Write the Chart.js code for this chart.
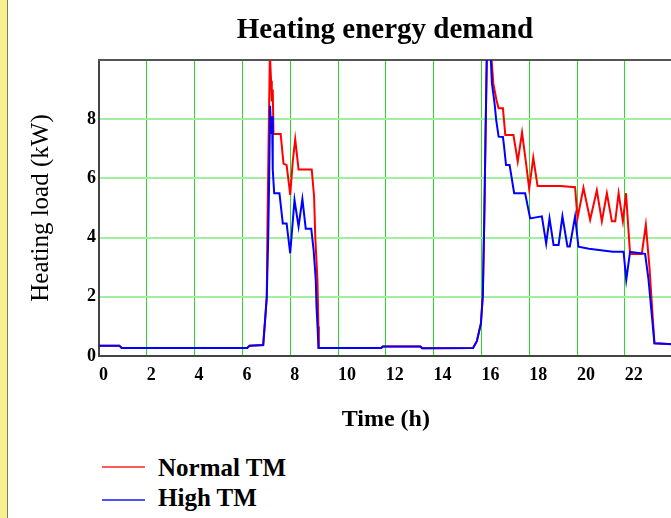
<!DOCTYPE html>
<html>
<head>
<meta charset="utf-8">
<script src="https://cdn.jsdelivr.net/npm/chart.js@4.4.0/dist/chart.umd.min.js"></script>
<style>
body { margin: 0; width: 671px; height: 518px; overflow: hidden; background: #fff; position: relative; }
#strip { position: absolute; left: 0; top: 0; width: 7px; height: 518px; background: #f6f08e; border-right: 1px solid #7a7a60; }
#wrap { position: absolute; left: 0; top: 0; width: 770px; height: 440px; }
#title { position: absolute; left: 0; top: 10px; width: 770px; text-align: center; font: bold 29px/36px "Liberation Serif", serif; color: #000; }
.key { position: absolute; left: 102px; width: 43px; height: 2px; }
.lbl { position: absolute; left: 158px; font: bold 25px/30px "Liberation Serif", serif; color: #000; white-space: nowrap; }
</style>
</head>
<body>
<div id="strip"></div>
<div id="wrap"><canvas id="myChart" width="770" height="440"></canvas></div>
<div id="title">Heating energy demand</div>
<div class="key" style="top:466px; background:rgb(255,90,90)"></div>
<div class="lbl" style="top:453px">Normal TM</div>
<div class="key" style="top:499px; background:rgb(80,80,255)"></div>
<div class="lbl" style="top:483px">High TM</div>
<script>
// time (h) and load (kW)
var timeNormal = [0, 0.85, 0.95, 6.2, 6.3, 6.87, 6.96, 7.02, 7.05, 7.1, 7.15, 7.2, 7.23, 7.27, 7.3, 7.6, 7.72, 7.85, 7.96, 8.0, 8.11, 8.21, 8.35, 8.9, 9.0, 9.05, 9.14, 9.18, 9.2, 11.8, 11.88, 13.45, 13.52, 15.65, 15.81, 15.98, 16.06, 16.12, 16.17, 16.23, 16.4, 16.5, 16.63, 16.72, 16.9, 17.0, 17.34, 17.52, 17.7, 17.87, 18.0, 18.17, 18.35, 19.3, 19.92, 20.02, 20.27, 20.55, 20.83, 21.04, 21.25, 21.46, 21.6, 21.74, 21.92, 22.05, 22.22, 22.71, 22.88, 23.03, 23.24, 24];
var loadNormal = [0.35, 0.35, 0.27, 0.27, 0.35, 0.37, 1.33, 2.0, 4.5, 7.5, 10.2, 9.3, 8.6, 9.0, 7.5, 7.5, 6.5, 6.45, 5.72, 5.44, 6.6, 7.32, 6.3, 6.3, 5.38, 4.0, 2.57, 1.0, 0.27, 0.27, 0.32, 0.32, 0.26, 0.27, 0.5, 1.1, 2.06, 4.6, 7.3, 10.3, 10.3, 9.2, 8.65, 8.37, 8.37, 7.47, 7.47, 6.57, 7.55, 6.5, 5.65, 6.7, 5.74, 5.74, 5.7, 4.65, 5.68, 4.6, 5.6, 4.55, 5.5, 4.55, 4.55, 5.5, 4.55, 5.5, 3.45, 3.45, 4.43, 3.02, 0.43, 0.4];

var timeHigh = [0, 0.85, 0.95, 6.2, 6.3, 6.87, 6.96, 7.02, 7.08, 7.12, 7.16, 7.2, 7.24, 7.27, 7.33, 7.55, 7.69, 7.85, 8.0, 8.18, 8.35, 8.51, 8.65, 8.88, 8.98, 9.07, 9.1, 9.15, 9.18, 11.8, 11.88, 13.45, 13.52, 15.65, 15.81, 15.98, 16.06, 16.12, 16.17, 16.23, 16.38, 16.44, 16.55, 16.62, 16.72, 16.9, 16.95, 17.03, 17.18, 17.37, 17.83, 18.04, 18.53, 18.71, 18.85, 19.02, 19.23, 19.39, 19.6, 19.7, 19.92, 20.06, 20.5, 21.5, 21.95, 22.06, 22.22, 22.85, 22.99, 23.24, 24];
var loadHigh = [0.35, 0.35, 0.27, 0.27, 0.35, 0.37, 1.33, 2.0, 4.0, 6.0, 8.45, 7.5, 8.1, 6.3, 5.5, 5.5, 4.48, 4.48, 3.47, 5.27, 4.37, 5.3, 4.3, 4.3, 3.58, 2.57, 1.67, 0.9, 0.27, 0.27, 0.32, 0.32, 0.26, 0.27, 0.5, 1.1, 2.06, 4.6, 7.3, 10.3, 10.3, 9.21, 8.54, 7.97, 7.41, 7.4, 7.07, 6.45, 6.45, 5.5, 5.5, 4.65, 4.72, 3.8, 4.65, 3.75, 3.75, 4.72, 3.7, 3.7, 4.72, 3.69, 3.62, 3.52, 3.52, 2.57, 3.52, 3.45, 2.6, 0.43, 0.4];

var xTicks = [0, 2, 4, 6, 8, 10, 12, 14, 16, 18, 20, 22, 24];
var yTicks = [0, 2, 4, 6, 8];

function toPoints(xs, ys) {
    var pts = [];
    for (var i = 0; i < xs.length; i++) {
        pts.push({ x: xs[i], y: ys[i] });
    }
    return pts;
}

// dark frame line along the top of the plot
var topFrame = {
    id: 'topFrame',
    beforeDatasetsDraw: function(chart) {
        var a = chart.chartArea;
        var ctx = chart.ctx;
        ctx.save();
        ctx.strokeStyle = '#555';
        ctx.lineWidth = 2;
        ctx.beginPath();
        ctx.moveTo(a.left - 1, a.top);
        ctx.lineTo(a.right + 40, a.top);
        ctx.stroke();
        ctx.restore();
    }
};

var tickFont = { family: 'Liberation Serif', size: 18, weight: 'bold' };

var grapharea = document.getElementById('myChart');
const myChart = new Chart(grapharea, {
    type: 'line',
    data: {
        datasets: [{
            label: 'Normal TM',
            data: toPoints(timeNormal, loadNormal),
            borderColor: 'rgb(255,0,0)',
            borderWidth: 2,
            pointRadius: 0,
            order: 2
        }, {
            label: 'High TM',
            data: toPoints(timeHigh, loadHigh),
            borderColor: 'rgb(0,0,255)',
            borderWidth: 2,
            pointRadius: 0,
            order: 1
        }]
    },
    plugins: [topFrame],
    options: {
        responsive: false,
        animation: false,
        layout: { padding: { top: 60, right: 97.4, left: 0, bottom: 0 } },
        plugins: { legend: { display: false }, title: { display: false }, tooltip: { enabled: false } },
        scales: {
            x: {
                type: 'linear',
                min: 0,
                max: 24,
                afterFit: function(s) { s.height = 84; },
                afterBuildTicks: function(s) { s.ticks = xTicks.map(function(v) { return { value: v }; }); },
                grid: { color: 'rgb(40,220,40)', lineWidth: 1, drawTicks: false },
                border: { color: '#444', width: 2 },
                ticks: { font: tickFont, color: '#000', padding: 9, align: 'start', maxRotation: 0 },
                title: { display: true, text: 'Time (h)', color: '#000', font: { family: 'Liberation Serif', size: 24, weight: 'bold' }, padding: { top: 0, bottom: 6 } }
            },
            y: {
                min: 0,
                max: 10,
                afterFit: function(s) { s.width = 99; },
                afterBuildTicks: function(s) { s.ticks = yTicks.concat([10]).map(function(v) { return { value: v }; }); },
                grid: { color: 'rgb(160,240,160)', lineWidth: 2, drawTicks: false },
                border: { color: '#444', width: 2 },
                ticks: {
                    font: tickFont, color: '#000', padding: 3,
                    callback: function(v) { return v === 10 ? '' : v; }
                },
                title: { display: true, text: 'Heating load (kW)', color: '#000', font: { family: 'Liberation Serif', size: 25 }, padding: { top: 26, bottom: 0 } }
            }
        }
    }
});
</script>
</body>
</html>
